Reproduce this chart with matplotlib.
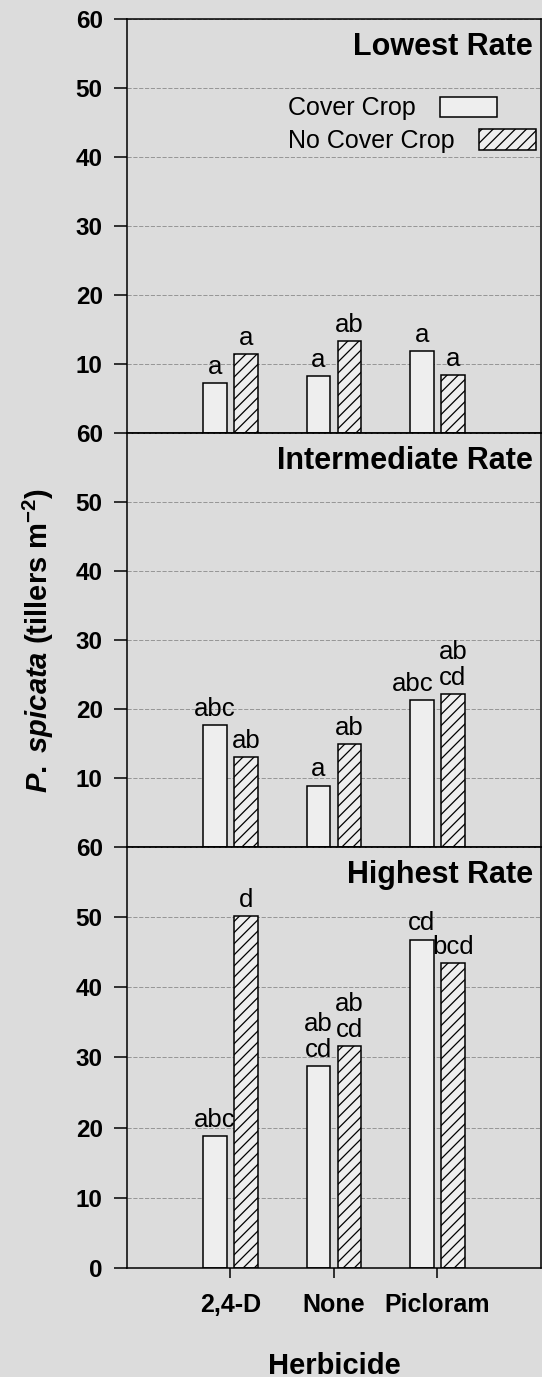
import numpy as np
import matplotlib
matplotlib.use('Agg')
import matplotlib.pyplot as plt
from matplotlib.patches import Rectangle

plt.rcParams['font.family'] = ['Liberation Sans', 'DejaVu Sans']
plt.rcParams['mathtext.fontset'] = 'custom'
plt.rcParams['mathtext.rm'] = 'Liberation Sans:bold'
plt.rcParams['mathtext.it'] = 'Liberation Sans:italic:bold'
plt.rcParams['mathtext.bf'] = 'Liberation Sans:bold'
plt.rcParams['hatch.linewidth'] = 0.9

herbicides = ['2,4-D', 'None', 'Picloram']
rates = ['Lowest Rate', 'Intermediate Rate', 'Highest Rate']

# tillers per m2, one value per herbicide
cover_low = [7.2, 8.2, 11.9]
nocover_low = [11.4, 13.3, 8.4]
cover_mid = [17.7, 8.9, 21.3]
nocover_mid = [13.0, 14.9, 22.1]
cover_high = [18.8, 28.8, 46.8]
nocover_high = [50.1, 31.6, 43.4]

letters_cover_low = ['a', 'a', 'a']
letters_nocover_low = ['a', 'ab', 'a']
letters_cover_mid = ['abc', 'a', 'abc']
letters_nocover_mid = ['ab', 'ab', 'ab\ncd']
letters_cover_high = ['abc', 'ab\ncd', 'cd']
letters_nocover_high = ['d', 'ab\ncd', 'bcd']

panels = [
    (cover_low, nocover_low, letters_cover_low, letters_nocover_low),
    (cover_mid, nocover_mid, letters_cover_mid, letters_nocover_mid),
    (cover_high, nocover_high, letters_cover_high, letters_nocover_high),
]

bg = '#dcdcdc'
barface = '#eeeeee'

fig = plt.figure(figsize=(5.42, 13.77), dpi=100, facecolor=bg)
left, width = 0.2343, 0.7638
rects = [[left, 0.6855, width, 0.3007],
         [left, 0.3849, width, 0.3007],
         [left, 0.0792, width, 0.3057]]

x = np.arange(len(herbicides))
w = 0.23
off = 0.15

axes = []
for i, (rect, rate, (cov, nocov, lc, ln)) in enumerate(zip(rects, rates, panels)):
    ax = fig.add_axes(rect)
    ax.set_facecolor('none')
    ax.set_xlim(-1, 3)
    ax.set_ylim(0, 60)
    ax.set_axisbelow(True)
    ax.yaxis.grid(True, color='#8a8a8a', lw=0.6, ls=(0, (5, 2)))

    ax.bar(x - off, cov, w, facecolor=barface, edgecolor='black', lw=1.1)
    ax.bar(x + off, nocov, w, facecolor=barface, edgecolor='black', lw=1.1,
           hatch='///')

    for xi, v, s, other in zip(x - off, cov, lc, ln):
        # long label next to a two-line one: push it left, flush with the bar edge
        if '\n' in other and '\n' not in s and len(s) > 2:
            ax.annotate(s, (xi + w / 2, v), xytext=(0, 3), textcoords='offset points',
                        ha='right', va='bottom', fontsize=18.5)
        else:
            ax.annotate(s, (xi, v), xytext=(0, 3), textcoords='offset points',
                        ha='center', va='bottom', fontsize=18.5, linespacing=1.1)
    for xi, v, s in zip(x + off, nocov, ln):
        ax.annotate(s, (xi, v), xytext=(0, 3), textcoords='offset points',
                    ha='center', va='bottom', fontsize=18.5, linespacing=1.1)

    ax.text(0.98, 0.933, rate, transform=ax.transAxes, ha='right', va='center',
            fontsize=22, fontweight='bold')

    if i < 2:
        ax.set_yticks(np.arange(10, 61, 10))
        ax.set_xticks([])
    else:
        ax.set_yticks(np.arange(0, 61, 10))
        ax.set_xticks(x)
        ax.set_xticklabels(herbicides, fontsize=18, fontweight='bold')
        ax.tick_params(axis='x', direction='out', length=7, width=1.1, pad=11)
    ax.tick_params(axis='y', direction='out', length=9.5, width=1.1, pad=8,
                   labelsize=17.5)
    for t in ax.get_yticklabels():
        t.set_fontweight('bold')
    for sp in ax.spines.values():
        sp.set_linewidth(1.1)
    axes.append(ax)

# legend drawn as text with sample boxes in the top panel
ax0 = axes[0]
ax0.text(0.389, 0.785, 'Cover Crop', transform=ax0.transAxes, ha='left',
         va='center', fontsize=18)
ax0.text(0.389, 0.705, 'No Cover Crop', transform=ax0.transAxes, ha='left',
         va='center', fontsize=18)
ax0.add_patch(Rectangle((0.756, 0.763), 0.138, 0.048, transform=ax0.transAxes,
                        facecolor=barface, edgecolor='black', lw=1.1))
ax0.add_patch(Rectangle((0.850, 0.684), 0.138, 0.050, transform=ax0.transAxes,
                        facecolor=barface, edgecolor='black', lw=1.1, hatch='///'))

axes[1].set_ylabel(r'$\mathit{P.}$ $\mathit{spicata}$ (tillers m$^{-2}$)',
                   fontsize=21, fontweight='bold', labelpad=14)
axes[2].set_xlabel('Herbicide', fontsize=21, fontweight='bold', labelpad=25)

fig.savefig('out.png', dpi=100, facecolor=bg)
